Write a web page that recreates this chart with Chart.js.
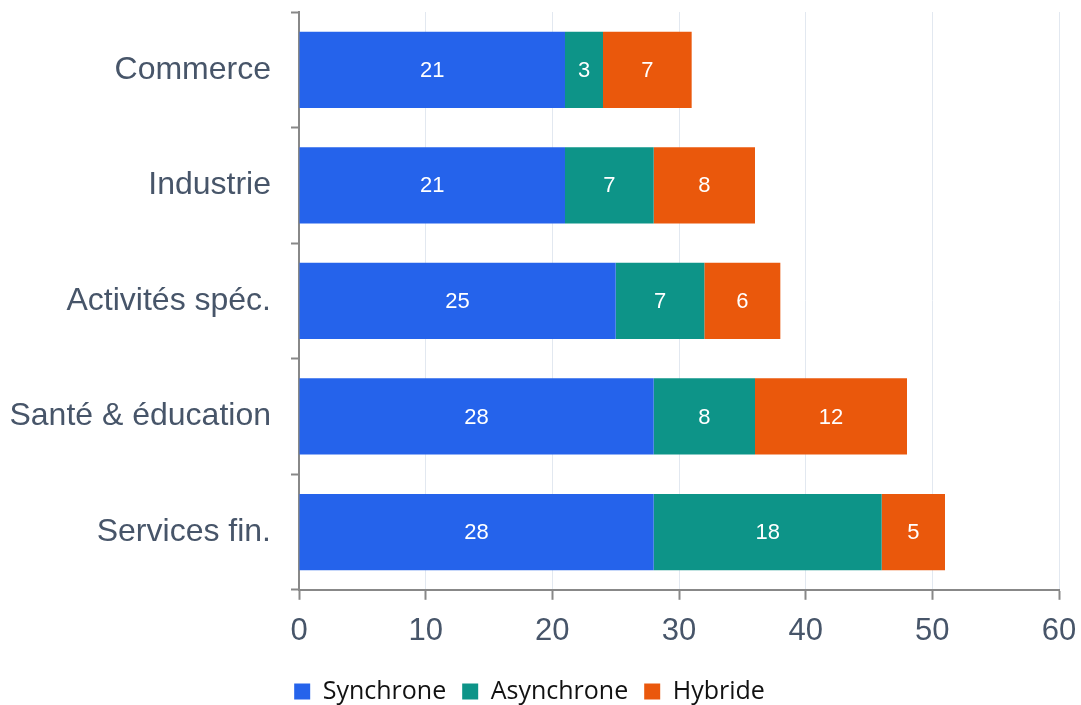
<!DOCTYPE html>
<html lang="fr">
<head>
    <meta charset="UTF-8">
    <title>Modes de travail par secteur</title>
    <style>
        html, body { margin: 0; padding: 0; background: #ffffff; }
        #wrap { width: 1081px; height: 705px; position: relative; }
    </style>
</head>
<body>
    <div id="wrap"><canvas id="chart"></canvas></div>
    <script src="https://cdn.jsdelivr.net/npm/chart.js@4.4.0/dist/chart.umd.min.js"></script>
    <script>
        // data
        var categories = ['Commerce', 'Industrie', 'Activités spéc.', 'Santé & éducation', 'Services fin.'];
        var synchrone = [21, 21, 25, 28, 28];
        var asynchrone = [3, 7, 7, 8, 18];
        var hybride = [7, 8, 6, 12, 5];
        var seriesNames = ['Synchrone', 'Asynchrone', 'Hybride'];
        var seriesColors = ['#2563eb', '#0d9488', '#ea580c'];

        // small plugin to write the value in the middle of each segment
        var barLabels = {
            id: 'barLabels',
            afterDatasetsDraw: function(chart) {
                var ctx = chart.ctx;
                ctx.save();
                ctx.font = '22px "Liberation Sans", Arial, sans-serif';
                ctx.fillStyle = '#ffffff';
                ctx.textAlign = 'center';
                ctx.textBaseline = 'middle';
                chart.data.datasets.forEach(function(ds, i) {
                    var meta = chart.getDatasetMeta(i);
                    meta.data.forEach(function(bar, j) {
                        var p = bar.getProps(['x', 'y', 'base'], true);
                        ctx.fillText(ds.data[j], (p.x + p.base) / 2, p.y + 1);
                    });
                });
                ctx.restore();
            }
        };

        var datasets = [synchrone, asynchrone, hybride].map(function(vals, i) {
            return {
                label: seriesNames[i],
                data: vals,
                backgroundColor: seriesColors[i],
                borderWidth: 0,
                barPercentage: 0.66,
                categoryPercentage: 1.0
            };
        });

        new Chart(document.getElementById('chart').getContext('2d'), {
            type: 'bar',
            data: { labels: categories, datasets: datasets },
            plugins: [barLabels],
            options: {
                indexAxis: 'y',
                responsive: true,
                maintainAspectRatio: false,
                animation: false,
                layout: { padding: { top: 0, right: 22, left: 0, bottom: -9 } },
                scales: {
                    x: {
                        stacked: true,
                        min: 0,
                        max: 60,
                        afterFit: function(s) {
                            s.paddingLeft = 0;
                            s.paddingRight = 0;
                        },
                        ticks: {
                            stepSize: 10,
                            color: '#475569',
                            padding: 13,
                            font: { family: '"Liberation Sans", Arial, sans-serif', size: 31 }
                        },
                        grid: {
                            color: '#e2e8f0',
                            tickColor: '#888888',
                            tickLength: 10,
                            lineWidth: 1,
                            tickWidth: 2
                        },
                        border: { color: '#888888', width: 2 }
                    },
                    y: {
                        stacked: true,
                        // fixed axis width and top gap, like the original
                        afterFit: function(s) {
                            s.width = 299;
                            s.paddingTop = 12;
                            s.paddingBottom = 0;
                        },
                        ticks: {
                            color: '#475569',
                            padding: 20,
                            font: { family: '"Liberation Sans", Arial, sans-serif', size: 32 }
                        },
                        grid: {
                            offset: true,
                            drawOnChartArea: false,
                            color: '#888888',
                            tickLength: 8,
                            tickWidth: 2
                        },
                        border: { color: '#888888', width: 2 }
                    }
                },
                plugins: {
                    legend: {
                        position: 'bottom',
                        labels: {
                            boxWidth: 16,
                            boxHeight: 16,
                            padding: 16,
                            color: '#111111',
                            font: { family: '"Open Sans", sans-serif', size: 25 }
                        }
                    },
                    tooltip: { enabled: false }
                }
            }
        });
    </script>
</body>
</html>
